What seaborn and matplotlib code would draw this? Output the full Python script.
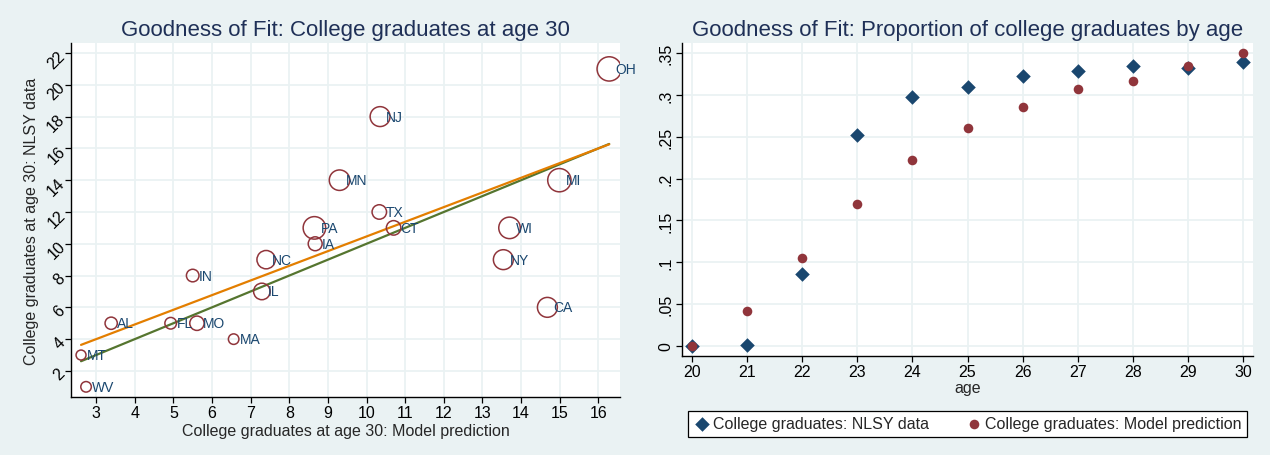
import numpy as np
import pandas as pd
import matplotlib
matplotlib.use('Agg')
import matplotlib.pyplot as plt
import seaborn as sns
from matplotlib.ticker import FuncFormatter

# ---- left panel: college graduates at age 30, by state ----
states = ['OH', 'NJ', 'MN', 'MI', 'TX', 'PA', 'CT', 'WI', 'IA', 'NY',
          'NC', 'IN', 'IL', 'CA', 'AL', 'FL', 'MO', 'MA', 'MT', 'WV']
model_pred = [16.28, 10.35, 9.30, 14.99, 10.33, 8.65, 10.70, 13.70, 8.67, 13.54,
              7.40, 5.50, 7.29, 14.68, 3.39, 4.93, 5.61, 6.56, 2.61, 2.74]
nlsy_data = [21, 18, 14, 14, 12, 11, 11, 11, 10, 9,
             9, 8, 7, 6, 5, 5, 5, 4, 3, 1]
state_weight = [149, 100, 106, 137, 53, 128, 53, 117, 49, 100,
                85, 40, 69, 100, 38, 34, 52, 28, 25, 28]
fit_intercept = 1.23
fit_slope = 0.923

# ---- right panel: proportion of college graduates by age ----
ages = [20, 21, 22, 23, 24, 25, 26, 27, 28, 29, 30]
prop_nlsy = [0.0, 0.001, 0.086, 0.252, 0.2975, 0.310, 0.323, 0.329, 0.334, 0.3325, 0.339]
prop_model = [0.0, 0.042, 0.105, 0.170, 0.2226, 0.261, 0.286, 0.307, 0.3166, 0.335, 0.3497]

BG = '#EAF2F3'
NAVY = '#1A476F'
MAROON = '#90353B'
ORANGE = '#E37E00'
GREEN = '#55752F'
TITLE = '#1F3057'

sns.set_style('whitegrid', rc={'axes.facecolor': 'white', 'figure.facecolor': BG,
                               'grid.color': BG, 'axes.edgecolor': 'black'})
plt.rcParams['font.family'] = ['Liberation Sans', 'DejaVu Sans']
plt.rcParams['xtick.bottom'] = True
plt.rcParams['ytick.left'] = True

states_df = pd.DataFrame({'state': states, 'model': model_pred,
                          'nlsy': nlsy_data, 'weight': state_weight})
age_df = pd.DataFrame({'age': ages, 'nlsy': prop_nlsy, 'model': prop_model})

fig = plt.figure(figsize=(12.7, 4.56), dpi=100)
ax1 = fig.add_axes([0.0559, 0.1272, 0.4323, 0.7763])
ax2 = fig.add_axes([0.5368, 0.2178, 0.4501, 0.6857])


def style_axes(ax):
    for side in ['top', 'right']:
        ax.spines[side].set_visible(False)
    for side in ['left', 'bottom']:
        ax.spines[side].set_linewidth(1.0)
        ax.spines[side].set_color('black')
    ax.grid(True, color=BG, linewidth=1.3)
    ax.tick_params(axis='both', direction='out', length=4, width=0.9,
                   color='black', labelsize=11.5, labelcolor='black', pad=2)


# left panel: weighted hollow circles, state labels, 45-degree line and fit
k = 2.05
wmax = max(state_weight)
sns.scatterplot(data=states_df, x='model', y='nlsy', size='weight',
                sizes=(0, k * wmax), size_norm=(0, wmax), marker='o',
                facecolor='none', edgecolor=MAROON, linewidth=1.1,
                legend=False, ax=ax1, zorder=3)
for _, row in states_df.iterrows():
    ax1.annotate(row['state'], (row['model'], row['nlsy']), xytext=(4.5, 0),
                 textcoords='offset points', ha='left', va='center',
                 color=NAVY, fontsize=10, zorder=4)

x_line = np.array([min(model_pred), max(model_pred)])
sns.lineplot(x=x_line, y=x_line, color=GREEN, linewidth=1.6, ax=ax1, zorder=2)
sns.lineplot(x=x_line, y=fit_intercept + fit_slope * x_line, color=ORANGE,
             linewidth=1.6, ax=ax1, zorder=2)

ax1.set_xlim(2.35, 16.56)
ax1.set_ylim(0.36, 22.63)
ax1.set_xticks(range(3, 17))
ax1.set_yticks(range(2, 23, 2))
style_axes(ax1)
for lab in ax1.get_yticklabels():
    lab.set_rotation(45)
    lab.set_rotation_mode('anchor')
    lab.set_ha('right')
    lab.set_va('center')
ax1.set_xlabel('College graduates at age 30: Model prediction', fontsize=11.5, labelpad=2)
ax1.set_ylabel('College graduates at age 30: NLSY data', fontsize=11.5, labelpad=4)
ax1.set_title('Goodness of Fit: College graduates at age 30', fontsize=16,
              color=TITLE, pad=6)

# right panel: data vs model by age
sns.scatterplot(data=age_df, x='age', y='nlsy', marker='D', color=NAVY, s=55,
                linewidth=0, label='College graduates: NLSY data', ax=ax2, zorder=3)
sns.scatterplot(data=age_df, x='age', y='model', marker='o', color=MAROON, s=48,
                linewidth=0, label='College graduates: Model prediction', ax=ax2, zorder=3)
ax2.set_xlim(19.82, 30.18)
ax2.set_ylim(-0.0116, 0.362)
ax2.set_xticks(ages)
ax2.set_yticks([0, 0.05, 0.1, 0.15, 0.2, 0.25, 0.3, 0.35])
ax2.yaxis.set_major_formatter(FuncFormatter(
    lambda v, p: '0' if abs(v) < 1e-9 else ('%g' % round(v, 2)).lstrip('0')))
style_axes(ax2)
for lab in ax2.get_yticklabels():
    lab.set_rotation(90)
    lab.set_ha('right')
    lab.set_va('center')
ax2.set_xlabel('age', fontsize=11.5, labelpad=1)
ax2.set_ylabel('')
ax2.set_title('Goodness of Fit: Proportion of college graduates by age', fontsize=16,
              color=TITLE, pad=6)

leg = ax2.legend(loc='lower left',
                 bbox_to_anchor=(688 / 1270, 1 - 438 / 456, 559 / 1270, 28 / 456),
                 bbox_transform=fig.transFigure, mode='expand', ncol=2, fontsize=11.5,
                 frameon=True, fancybox=False, edgecolor='black', facecolor='white',
                 framealpha=1, borderpad=0.35, handletextpad=0.2, borderaxespad=0,
                 handlelength=1.0)
leg.get_frame().set_linewidth(0.9)

fig.savefig('out.png', dpi=100, facecolor=BG)
